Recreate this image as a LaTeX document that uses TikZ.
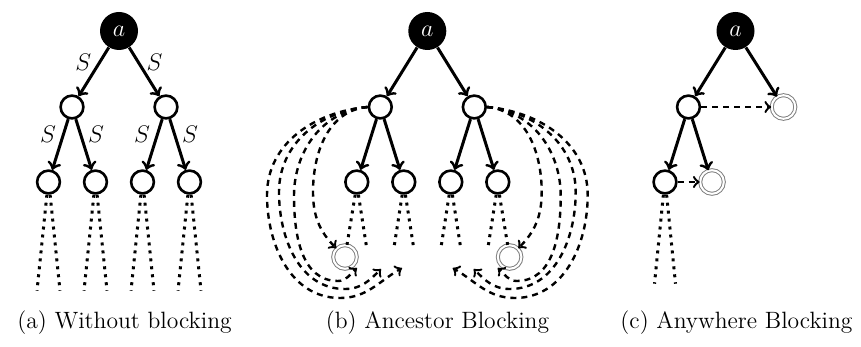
\documentclass[tikz,border=0pt]{standalone}
\usetikzlibrary{calc}
\begin{document}
\begin{tikzpicture}[x=0.5pt,y=0.5pt,
  every node/.style={font=\fontsize{11.8}{14}\selectfont},
  root/.style={circle,fill=black,text=white,minimum size=19pt,inner sep=0pt},
  tnode/.style={circle,draw,line width=1.3pt,minimum size=11.4pt,inner sep=0pt},
  blk/.style={circle,draw=gray,line width=0.5pt,double=white,double distance=1pt,minimum size=11.8pt,inner sep=0pt},
  edge/.style={->,line width=1.5pt},
  darr/.style={->,line width=1.2pt,dash pattern=on 3pt off 2.5pt},
  dots/.style={line width=1.5pt,dash pattern=on 1.5pt off 2.5pt},
  lab/.style={inner sep=3pt}
]
\useasboundingbox (0,0) rectangle (861,-347);

% ---------- (a) ----------
\node[root] (ra) at (119,-31) {$a$};
\node[tnode] (a1) at (72,-107) {};
\node[tnode] (a2) at (166,-107) {};
\node[tnode] (a11) at (48.5,-182) {};
\node[tnode] (a12) at (95.5,-182) {};
\node[tnode] (a21) at (142.5,-182) {};
\node[tnode] (a22) at (189.5,-182) {};
\draw[edge] (ra) -- node[lab,pos=.3,left=.5pt]{$S$} (a1);
\draw[edge] (ra) -- node[lab,pos=.3,right=.5pt]{$S$} (a2);
\draw[edge] (a1) -- node[lab,pos=.3,left=0pt]{$S$} (a11);
\draw[edge] (a1) -- node[lab,pos=.3,right=0pt]{$S$} (a12);
\draw[edge] (a2) -- node[lab,pos=.3,left=0pt]{$S$} (a21);
\draw[edge] (a2) -- node[lab,pos=.3,right=0pt]{$S$} (a22);
\foreach \n in {a11,a12,a21,a22}{
  \coordinate (\n l) at ($(\n.south)+(-11.5,-96)$);
  \coordinate (\n r) at ($(\n.south)+(11.5,-96)$);
  \draw[dots] ([xshift=-0.8pt]\n.south) -- (\n l);
  \draw[dots] ([xshift=0.8pt]\n.south) -- (\n r);
}

% ---------- (b) ----------
\node[root] (rb) at (427.3,-31) {$a$};
\node[tnode] (b1) at (380.3,-107) {};
\node[tnode] (b2) at (474.3,-107) {};
\node[tnode] (b11) at (356.8,-182) {};
\node[tnode] (b12) at (403.8,-182) {};
\node[tnode] (b21) at (450.8,-182) {};
\node[tnode] (b22) at (497.8,-182) {};
\node[blk] (B1) at (345,-257) {};
\node[blk] (B2) at (509.6,-257) {};
\draw[edge] (rb) -- (b1);
\draw[edge] (rb) -- (b2);
\draw[edge] (b1) -- (b11);
\draw[edge] (b1) -- (b12);
\draw[edge] (b2) -- (b21);
\draw[edge] (b2) -- (b22);
\foreach \n in {b11,b12,b21,b22}{
  \coordinate (\n l) at ($(\n.south)+(-10,-54)$);
  \coordinate (\n r) at ($(\n.south)+(10,-54)$);
}
\draw[dots] ([xshift=-0.8pt]b11.south) -- (B1);
\draw[dots] ([xshift=0.8pt]b11.south) -- (b11r);
\draw[dots] ([xshift=-0.8pt]b12.south) -- (b12l);
\draw[dots] ([xshift=0.8pt]b12.south) -- (b12r);
\draw[dots] ([xshift=-0.8pt]b21.south) -- (b21l);
\draw[dots] ([xshift=0.8pt]b21.south) -- (b21r);
\draw[dots] ([xshift=-0.8pt]b22.south) -- (b22l);
\draw[dots] ([xshift=0.8pt]b22.south) -- (B2);

\coordinate (e1) at (402,-268);
\coordinate (e2) at (381,-269);
\coordinate (e3) at (357,-268);
\coordinate (f1) at (452.7,-268);
\coordinate (f2) at (473.7,-269);
\coordinate (f3) at (497.7,-268);

\draw[darr] (b1.west) to[out=185,in=90] (267,-195) to[out=-90,in=180] (340,-298) to[out=0,in=210] (e1);
\draw[darr] (b1.west) to[out=185,in=90] (279,-192) to[out=-90,in=180] (345,-289) to[out=0,in=225] (e2);
\draw[darr] (b1.west) to[out=185,in=90] (294,-196) to[out=-90,in=180] (338,-281) to[out=0,in=220] (e3);
\draw[darr] (b1.west) to[out=185,in=90] (313,-192) to[out=-90,in=135] (B1.north west);

\draw[darr] (b2.east) to[out=-5,in=90] (587.7,-195) to[out=-90,in=0] (514.7,-298) to[out=180,in=330] (f1);
\draw[darr] (b2.east) to[out=-5,in=90] (575.7,-192) to[out=-90,in=0] (509.7,-289) to[out=180,in=315] (f2);
\draw[darr] (b2.east) to[out=-5,in=90] (560.7,-196) to[out=-90,in=0] (516.7,-281) to[out=180,in=320] (f3);
\draw[darr] (b2.east) to[out=-5,in=90] (541.7,-192) to[out=-90,in=45] (B2.north east);

% ---------- (c) ----------
\node[root] (rc) at (735.5,-31) {$a$};
\node[tnode] (c1) at (688.5,-107) {};
\node[blk] (cb1) at (783.5,-107) {};
\node[tnode] (c11) at (665,-182) {};
\node[blk] (cb2) at (712,-182) {};
\draw[edge] (rc) -- (c1);
\draw[edge] (rc) -- (cb1);
\draw[edge] (c1) -- (c11);
\draw[edge] (c1) -- (cb2);
\draw[darr] (c1) -- (cb1);
\draw[darr] (c11) -- (cb2);
\coordinate (c11l) at ($(c11.south)+(-10.5,-89)$);
\coordinate (c11r) at ($(c11.south)+(10.5,-89)$);
\draw[dots] ([xshift=-0.8pt]c11.south) -- (c11l);
\draw[dots] ([xshift=0.8pt]c11.south) -- (c11r);

% ---------- captions ----------
\node[anchor=base] (capa) at (124.5,-328) {(a) Without blocking};
\node[anchor=base] (capb) at (437.5,-328) {(b) Ancestor Blocking};
\node[anchor=base] (capc) at (736.5,-328) {(c) Anywhere Blocking};
\end{tikzpicture}
\end{document}
